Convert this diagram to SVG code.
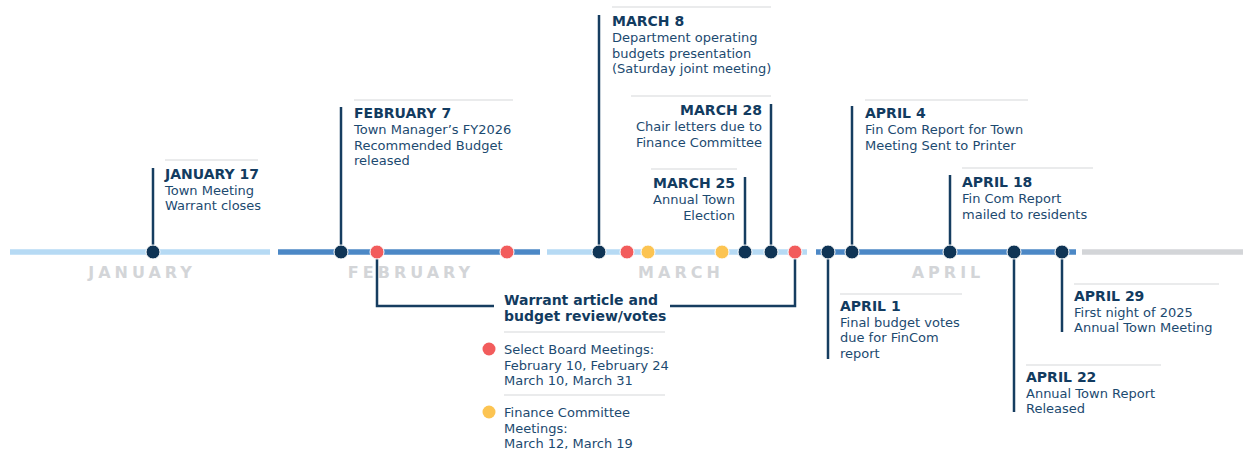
<svg xmlns="http://www.w3.org/2000/svg" width="1243" height="450" viewBox="0 0 1243 450">
<style>
text{font-family:"DejaVu Sans","Liberation Sans",sans-serif;fill:#1c4a70;font-size:13px}
.h{font-weight:700;fill:#123b60;font-size:14px}
.r{text-anchor:end}
.m{font-weight:700;fill:#d3d5d8;font-size:16px;letter-spacing:4px;text-anchor:middle}
.rule{stroke:#e3e4e6;stroke-width:1.5}
.stem{stroke:#163d60;stroke-width:2.5;fill:none}
.seg{stroke-width:5.5}
.lb{stroke:#b6daf4}
.mb{stroke:#4c88c6}
.gr{stroke:#d3d5d8}
.nv{fill:#0f3455;stroke:#fff;stroke-width:1}
.rd{fill:#f25c5c;stroke:#fff;stroke-width:1}
.yl{fill:#fcc452;stroke:#fff;stroke-width:1}
</style>
<g id="timeline">
<line class="seg lb" x1="10" y1="252" x2="270" y2="252"/>
<line class="seg mb" x1="278" y1="252" x2="540" y2="252"/>
<line class="seg lb" x1="547" y1="252" x2="807" y2="252"/>
<line class="seg mb" x1="816" y1="252" x2="1076" y2="252"/>
<line class="seg gr" x1="1082" y1="252" x2="1243" y2="252"/>
<text class="m" x="142" y="278">JANUARY</text>
<text class="m" x="411" y="278">FEBRUARY</text>
<text class="m" x="681" y="278">MARCH</text>
<text class="m" x="948" y="278">APRIL</text>
</g>
<g id="connectors">
<line class="stem" x1="153" y1="168" x2="153" y2="252"/>
<line class="stem" x1="341" y1="107" x2="341" y2="252"/>
<line class="stem" x1="599" y1="15" x2="599" y2="252"/>
<line class="stem" x1="771" y1="104" x2="771" y2="252"/>
<line class="stem" x1="745" y1="177" x2="745" y2="252"/>
<line class="stem" x1="852" y1="106" x2="852" y2="252"/>
<line class="stem" x1="950" y1="175" x2="950" y2="252"/>
<line class="stem" x1="828" y1="252" x2="828" y2="359"/>
<line class="stem" x1="1014" y1="252" x2="1014" y2="412"/>
<line class="stem" x1="1062" y1="252" x2="1062" y2="332"/>
<polyline class="stem" points="377,252 377,306 494,306"/>
<polyline class="stem" points="670,306 795,306 795,252"/>
</g>
<g id="dots">
<circle class="nv" cx="153" cy="252" r="7"/>
<circle class="nv" cx="341" cy="252" r="7"/>
<circle class="rd" cx="377" cy="252" r="7"/>
<circle class="rd" cx="507" cy="252" r="7"/>
<circle class="nv" cx="599" cy="252" r="7"/>
<circle class="rd" cx="627" cy="252" r="7"/>
<circle class="yl" cx="648" cy="252" r="7"/>
<circle class="yl" cx="722" cy="252" r="7"/>
<circle class="nv" cx="745" cy="252" r="7"/>
<circle class="nv" cx="771" cy="252" r="7"/>
<circle class="rd" cx="795" cy="252" r="7"/>
<circle class="nv" cx="828" cy="252" r="7"/>
<circle class="nv" cx="852" cy="252" r="7"/>
<circle class="nv" cx="950" cy="252" r="7"/>
<circle class="nv" cx="1014" cy="252" r="7"/>
<circle class="nv" cx="1062" cy="252" r="7"/>
</g>
<g id="jan17">
<line class="rule" x1="165" y1="160" x2="258" y2="160"/>
<text class="h" x="165" y="179">JANUARY 17</text>
<text x="165" y="194.5">Town Meeting</text>
<text x="165" y="210">Warrant closes</text>
</g>
<g id="feb7">
<line class="rule" x1="354" y1="100" x2="513" y2="100"/>
<text class="h" x="354" y="118">FEBRUARY 7</text>
<text x="354" y="134">Town Manager’s FY2026</text>
<text x="354" y="149.5">Recommended Budget</text>
<text x="354" y="165">released</text>
</g>
<g id="mar8">
<line class="rule" x1="612" y1="7" x2="771" y2="7"/>
<text class="h" x="612" y="26">MARCH 8</text>
<text x="612" y="42">Department operating</text>
<text x="612" y="57.5">budgets presentation</text>
<text x="612" y="73">(Saturday joint meeting)</text>
</g>
<g id="mar28">
<line class="rule" x1="631" y1="96" x2="771" y2="96"/>
<text class="h r" x="762" y="115">MARCH 28</text>
<text class="r" x="762" y="131">Chair letters due to</text>
<text class="r" x="762" y="146.5">Finance Committee</text>
</g>
<g id="mar25">
<line class="rule" x1="651" y1="169" x2="737" y2="169"/>
<text class="h r" x="735" y="188">MARCH 25</text>
<text class="r" x="735" y="204">Annual Town</text>
<text class="r" x="735" y="219.5">Election</text>
</g>
<g id="apr4">
<line class="rule" x1="865" y1="100" x2="1028" y2="100"/>
<text class="h" x="865" y="118">APRIL 4</text>
<text x="865" y="134">Fin Com Report for Town</text>
<text x="865" y="149.5">Meeting Sent to Printer</text>
</g>
<g id="apr18">
<line class="rule" x1="962" y1="168" x2="1093" y2="168"/>
<text class="h" x="962" y="187">APRIL 18</text>
<text x="962" y="203">Fin Com Report</text>
<text x="962" y="218.5">mailed to residents</text>
</g>
<g id="apr1">
<line class="rule" x1="840" y1="294" x2="962" y2="294"/>
<text class="h" x="840" y="311">APRIL 1</text>
<text x="840" y="326.5">Final budget votes</text>
<text x="840" y="342">due for FinCom</text>
<text x="840" y="357.5">report</text>
</g>
<g id="apr22">
<line class="rule" x1="1026" y1="365" x2="1161" y2="365"/>
<text class="h" x="1026" y="382">APRIL 22</text>
<text x="1026" y="397.5">Annual Town Report</text>
<text x="1026" y="413">Released</text>
</g>
<g id="apr29">
<line class="rule" x1="1074" y1="284" x2="1219" y2="284"/>
<text class="h" x="1074" y="301">APRIL 29</text>
<text x="1074" y="316.5">First night of 2025</text>
<text x="1074" y="332">Annual Town Meeting</text>
</g>
<g id="review">
<text class="h" x="504" y="305">Warrant article and</text>
<text class="h" x="504" y="321">budget review/votes</text>
<line class="rule" x1="504" y1="332" x2="665" y2="332"/>
<circle cx="489" cy="349" r="6.5" fill="#f25c5c"/>
<text x="504" y="354">Select Board Meetings:</text>
<text x="504" y="369.5">February 10, February 24</text>
<text x="504" y="385">March 10, March 31</text>
<line class="rule" x1="504" y1="395" x2="665" y2="395"/>
<circle cx="489" cy="412" r="6.5" fill="#fcc452"/>
<text x="504" y="417">Finance Committee</text>
<text x="504" y="432.5">Meetings:</text>
<text x="504" y="448">March 12, March 19</text>
</g>
</svg>
